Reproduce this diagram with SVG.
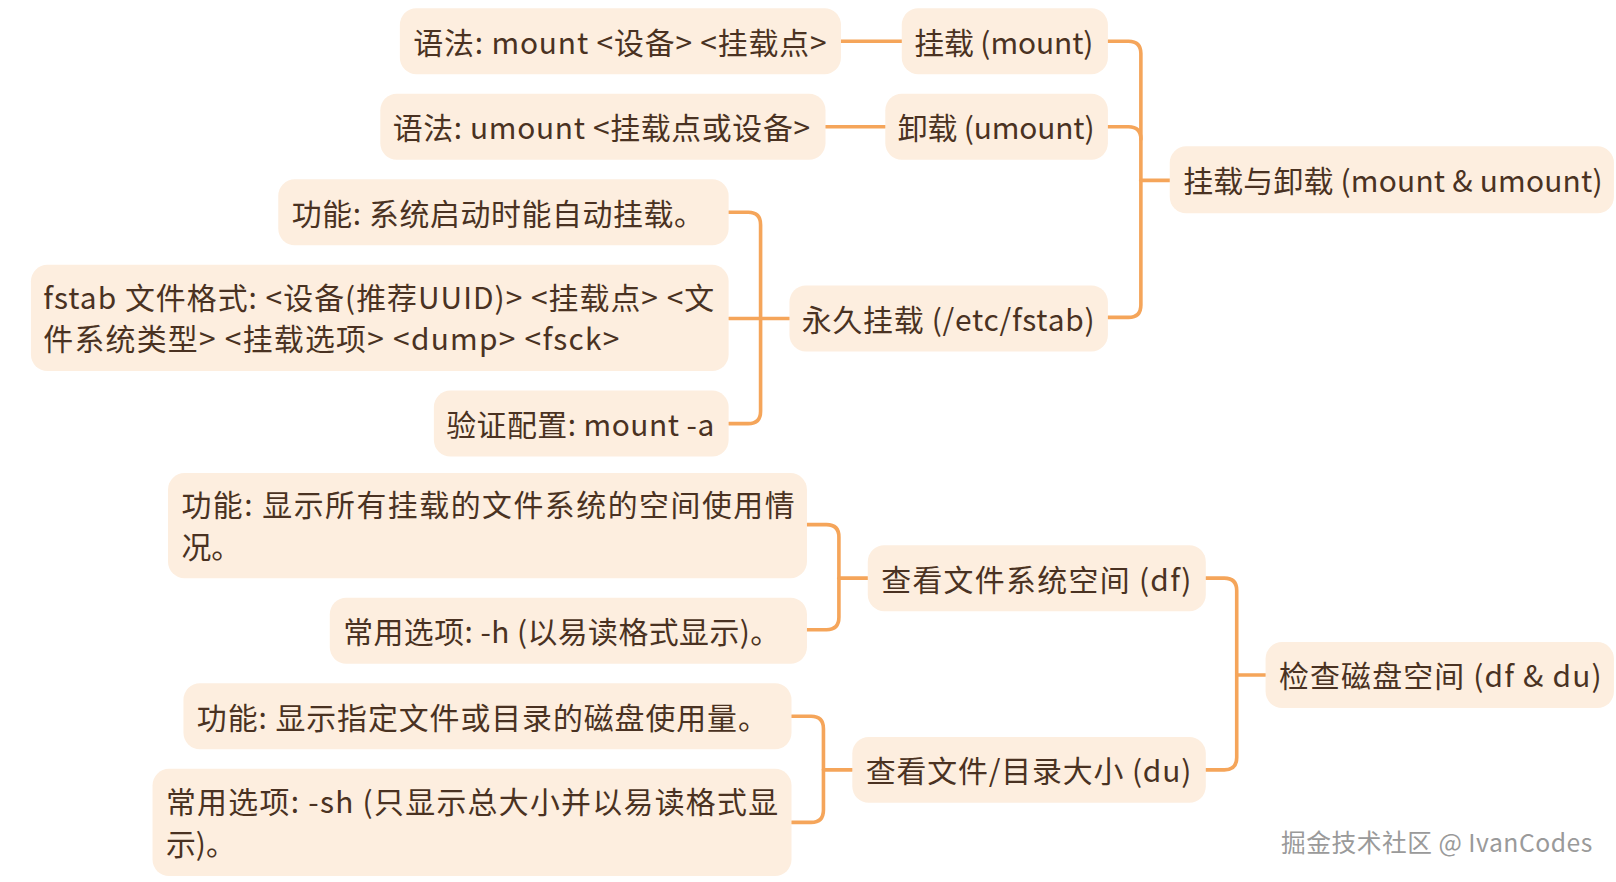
<svg xmlns="http://www.w3.org/2000/svg" width="1616" height="882" viewBox="0 0 1616 882">
<style>
.n rect{fill:#fdeedf;}
.n text{font-family:"Noto Sans CJK SC","Noto Sans",sans-serif;font-size:29px;fill:#4a3222;}
.c path{fill:none;stroke:#f5a55a;stroke-width:3.5;stroke-linecap:round;}
.w{font-family:"Noto Sans CJK SC","Noto Sans",sans-serif;font-size:24px;fill:#9a9a9a;}
</style>
<rect width="1616" height="882" fill="#fff"/>
<g transform="scale(1.0306)">
<g class="c">
<path d="M1075,40 H1095 Q1107,40 1107,52 V296 Q1107,308 1095,308 H1075"/>
<path d="M1075,123 H1095 Q1107,123 1107,135"/>
<path d="M1107,175 H1135"/>
<path d="M875,40 H816"/>
<path d="M859,123 H801"/>
<path d="M707,206 H726 Q738,206 738,218 V399 Q738,411 726,411 H707"/>
<path d="M707,309 H766"/>
<path d="M1170,561 H1188 Q1200,561 1200,573 V735 Q1200,747 1188,747 H1170"/>
<path d="M1200,655 H1228"/>
<path d="M783,509 H802 Q814,509 814,521 V599 Q814,611 802,611 H783"/>
<path d="M814,561 H842"/>
<path d="M768,695 H787 Q799,695 799,707 V786 Q799,798 787,798 H768"/>
<path d="M799,747 H827"/>
</g>
<g class="n" id="root1"><rect x="1135" y="142" width="431" height="65" rx="16"/><text x="1148" y="186" textLength="407" lengthAdjust="spacing">挂载与卸载 (mount &amp; umount)</text></g>
<g class="n" id="mount"><rect x="875" y="8" width="200" height="64" rx="16"/><text x="887" y="52" textLength="174" lengthAdjust="spacing">挂载 (mount)</text></g>
<g class="n" id="mount-syntax"><rect x="388" y="8" width="428" height="64" rx="16"/><text x="401" y="52" textLength="401" lengthAdjust="spacing">语法: mount &lt;设备&gt; &lt;挂载点&gt;</text></g>
<g class="n" id="umount"><rect x="859" y="91" width="216" height="64" rx="16"/><text x="871" y="135" textLength="191" lengthAdjust="spacing">卸载 (umount)</text></g>
<g class="n" id="umount-syntax"><rect x="369" y="91" width="432" height="64" rx="16"/><text x="381" y="135" textLength="405" lengthAdjust="spacing">语法: umount &lt;挂载点或设备&gt;</text></g>
<g class="n" id="fstab"><rect x="766" y="277" width="309" height="64" rx="16"/><text x="778" y="321" textLength="284" lengthAdjust="spacing">永久挂载 (/etc/fstab)</text></g>
<g class="n" id="fstab-func"><rect x="270" y="174" width="437" height="64" rx="16"/><text x="283" y="218" textLength="400" lengthAdjust="spacing">功能: 系统启动时能自动挂载。</text></g>
<g class="n" id="fstab-format"><rect x="30" y="257" width="677" height="103" rx="16"/><text x="42" y="300" textLength="651" lengthAdjust="spacing">fstab 文件格式: &lt;设备(推荐UUID)&gt; &lt;挂载点&gt; &lt;文</text><text x="42" y="340" textLength="559" lengthAdjust="spacing">件系统类型&gt; &lt;挂载选项&gt; &lt;dump&gt; &lt;fsck&gt;</text></g>
<g class="n" id="fstab-verify"><rect x="421" y="379" width="286" height="64" rx="16"/><text x="433" y="423" textLength="260" lengthAdjust="spacing">验证配置: mount -a</text></g>
<g class="n" id="root2"><rect x="1228" y="623" width="338" height="64" rx="16"/><text x="1241" y="667" textLength="313" lengthAdjust="spacing">检查磁盘空间 (df &amp; du)</text></g>
<g class="n" id="df"><rect x="842" y="529" width="328" height="64" rx="16"/><text x="855" y="573" textLength="301" lengthAdjust="spacing">查看文件系统空间 (df)</text></g>
<g class="n" id="df-func"><rect x="163" y="459" width="620" height="102" rx="16"/><text x="176" y="501" textLength="595" lengthAdjust="spacing">功能: 显示所有挂载的文件系统的空间使用情</text><text x="176" y="541">况。</text></g>
<g class="n" id="df-opt"><rect x="320" y="580" width="463" height="64" rx="16"/><text x="333" y="624" textLength="424" lengthAdjust="spacing">常用选项: -h (以易读格式显示)。</text></g>
<g class="n" id="du"><rect x="827" y="715" width="343" height="64" rx="16"/><text x="840" y="759" textLength="316" lengthAdjust="spacing">查看文件/目录大小 (du)</text></g>
<g class="n" id="du-func"><rect x="178" y="663" width="590" height="64" rx="16"/><text x="191" y="707" textLength="554" lengthAdjust="spacing">功能: 显示指定文件或目录的磁盘使用量。</text></g>
<g class="n" id="du-opt"><rect x="148" y="746" width="620" height="104" rx="16"/><text x="161" y="789" textLength="594" lengthAdjust="spacing">常用选项: -sh (只显示总大小并以易读格式显</text><text x="161" y="830">示)。</text></g>
<text class="w" x="1243" y="827" textLength="302" lengthAdjust="spacing">掘金技术社区 @ IvanCodes</text>
</g>
</svg>
